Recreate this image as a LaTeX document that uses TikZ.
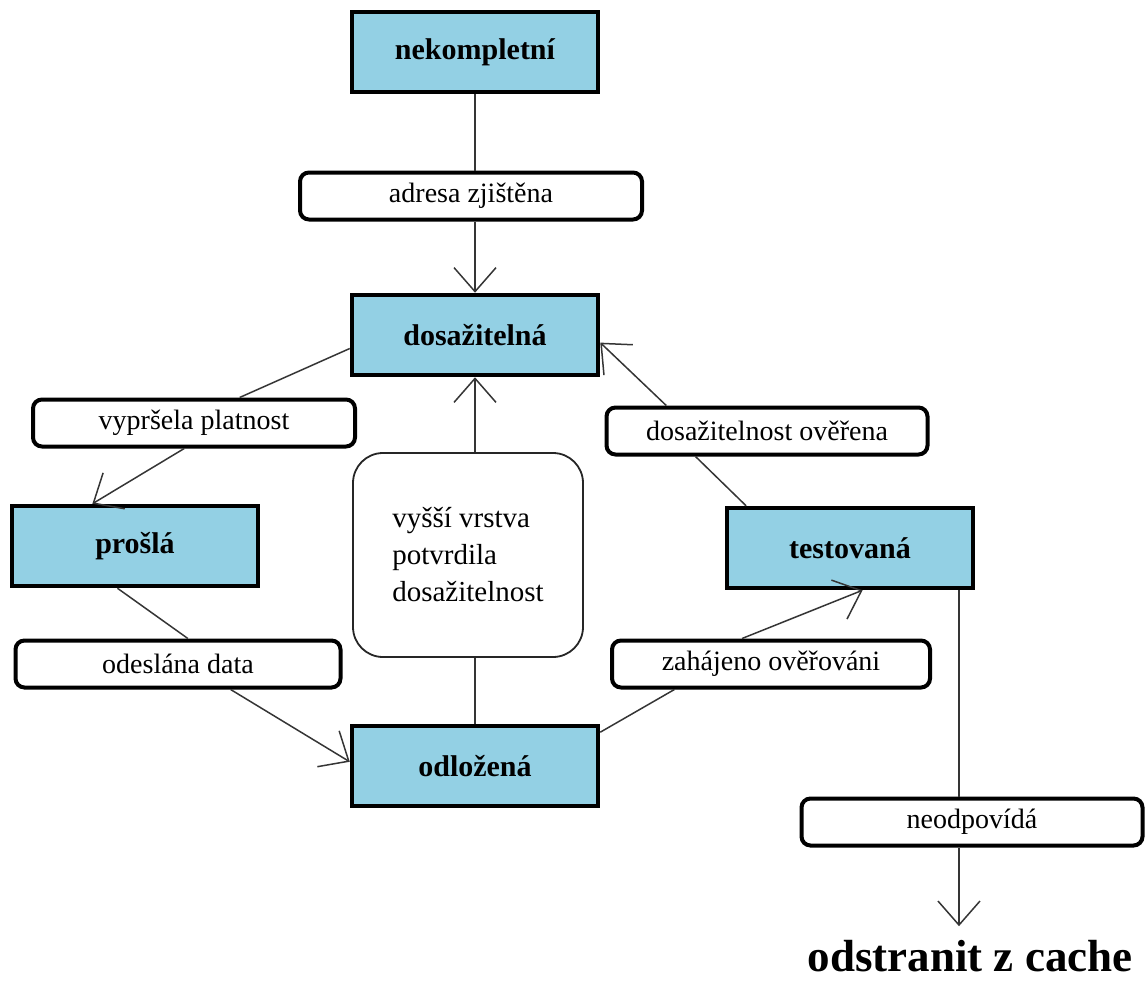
\documentclass[tikz,border=0pt]{standalone}
\usepackage{fontspec}
\setmainfont{Liberation Serif}
\usetikzlibrary{arrows.meta,calc}
\definecolor{NdBlue}{HTML}{93D0E4}
\definecolor{NdLine}{HTML}{353535}

\begin{document}
\begin{tikzpicture}[x=1pt,y=-1pt]
    \tikzset{statebox/.style={draw=black,line width=4.5pt,fill=NdBlue,minimum width=246pt,
      minimum height=80pt,inner sep=0pt,font=\bfseries\fontsize{30}{35}\selectfont},
      eventbox/.style={draw=black,line width=4pt,rounded corners=9pt,fill=white,minimum width=322pt,
      minimum height=47pt,inner sep=0pt,font=\fontsize{28}{34}\selectfont},
      notebox/.style={draw=black!85,line width=1.8pt,rounded corners=30pt,minimum width=230pt,
      minimum height=204pt,align=left,font=\fontsize{29}{37}\selectfont},
      link/.style={NdLine,line width=1.5pt},
      arrowlink/.style={-{Straight Barb[length=24pt,width=42pt]}}}
    \useasboundingbox (0,0) rectangle (1147,982);
    \node[statebox] (nekom) at (475,52) {nekompletní};
    \node[eventbox,minimum width=342pt] (adresa) at (471,196) {adresa zjištěna};
    \node[statebox] (dosa) at (475,335) {dosažitelná};
    \node[eventbox] (vypr) at (194,423) {vypršela platnost};
    \node[statebox] (prosla) at (135,546) {prošlá};
    \node[eventbox,minimum width=321pt] (overena) at (767,431) {dosažitelnost ověřena};
    \node[statebox] (test) at (850,548) {testovaná};
    \node[notebox] (vyssi) at (468,555) {vyšší vrstva\\potvrdila\\dosažitelnost};
    \node[eventbox,minimum width=325pt] (odeslana) at (178,664) {odeslána data};
    \node[statebox] (odloz) at (475,766) {odložená};
    \node[eventbox,minimum width=318pt] (zahajeno) at (771,664) {zahájeno ověřováni};
    \node[eventbox,minimum width=341pt] (neodp) at (972,822) {neodpovídá};
    \node[font=\bfseries\fontsize{45}{50}\selectfont,inner sep=0pt,outer ysep=14pt] (cache) at (970,956) {odstranit z cache};
    % nekompletni -> dosazitelna
    \draw[link] (nekom.south) -- (nekom.south |- adresa.north);
    \draw[link,arrowlink] (nekom.south |- adresa.south) -- (dosa.north);
    % dosazitelna -> prosla
    \draw[link] ($(dosa.north west)!0.66!(dosa.south west)$) -- ($(vypr.north west)!0.64!(vypr.north east)$);
    \draw[link,arrowlink] ($(vypr.south west)!0.47!(vypr.south east)$) -- ($(prosla.north west)!0.33!(prosla.north east)$);
    % prosla -> odlozena
    \draw[link] ($(prosla.south west)!0.43!(prosla.south east)$) -- ($(odeslana.north west)!0.53!(odeslana.north east)$);
    \draw[link,arrowlink] ($(odeslana.south west)!0.66!(odeslana.south east)$) -- ($(odloz.north west)!0.45!(odloz.south west)$);
    % odlozena -> dosazitelna
    \draw[link] (odloz.north) -- (odloz.north |- vyssi.south);
    \draw[link,arrowlink] (dosa.south |- vyssi.north) -- (dosa.south);
    % odlozena -> testovana
    \draw[link] ($(odloz.north east)!0.1!(odloz.south east)$) -- ($(zahajeno.south west)!0.2!(zahajeno.south east)$);
    \draw[link,arrowlink] ($(zahajeno.north west)!0.41!(zahajeno.north east)$) -- ($(test.south west)!0.55!(test.south east)$);
    % testovana -> dosazitelna
    \draw[link] ($(test.north west)!0.085!(test.north east)$) -- ($(overena.south west)!0.28!(overena.south east)$);
    \draw[link,arrowlink] ($(overena.north west)!0.19!(overena.north east)$) -- ($(dosa.north east)!0.59!(dosa.south east)$);
    % testovana -> odstranit
    \draw[link] ($(test.south west)!0.935!(test.south east)$) coordinate (drop) -- (drop |- neodp.north);
    \draw[link,arrowlink] (drop |- neodp.south) -- (drop |- cache.north);
  \end{tikzpicture}
\end{document}
